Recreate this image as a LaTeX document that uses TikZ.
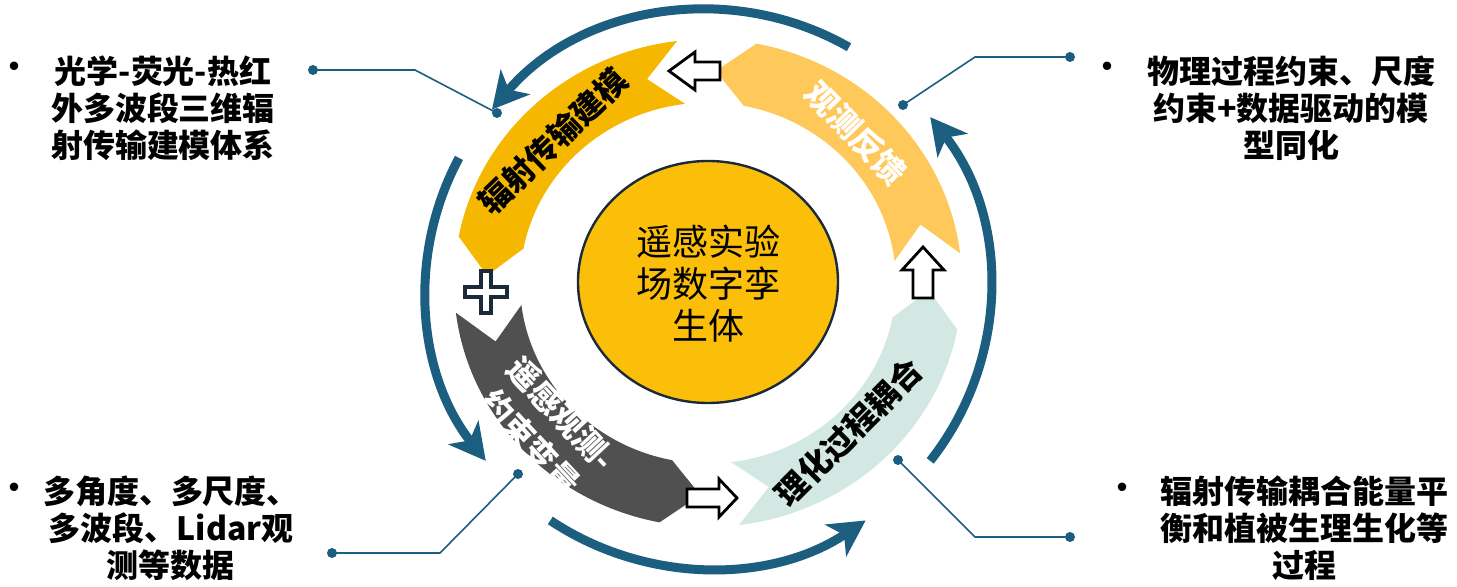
\documentclass[tikz,border=0pt]{standalone}
\usepackage{fontspec}
\setmainfont{Noto Sans CJK SC}
\usetikzlibrary{arrows.meta,shapes.geometric}
\definecolor{segY}{HTML}{F5B700}
\definecolor{segO}{HTML}{FFC85A}
\definecolor{segG}{HTML}{505050}
\definecolor{segT}{HTML}{D3E8E2}
\definecolor{cir}{HTML}{FBBF0A}
\definecolor{navy}{HTML}{1B5E80}
\definecolor{ink}{HTML}{1A2A3A}
\newcommand\ringseg[3]{%
  \fill[#3] (#1:254) arc[start angle=#1,end angle=#2,radius=254]
    -- ({#2+9}:221) -- (#2:188) arc[start angle=#2,end angle=#1,radius=188]
    -- ({#1+9}:221) -- cycle;}
\tikzset{
  bluearc/.style={navy,line width=4.5pt,-{Stealth[length=18pt,width=19pt,inset=5pt]}},
  hollow/.style={draw=black,fill=white,line width=1.4pt,line join=miter},
  callout/.style={navy,line width=0.8pt},
  dotm/.style={circle,fill=navy,inner sep=0pt,minimum size=5pt},
  side/.style={align=center,font=\fontsize{16pt}{18.5pt}\selectfont\bfseries},
  bul/.style={font=\fontsize{20pt}{22pt}\selectfont},
  arclab/.style={align=center,font=\fontsize{16pt}{21pt}\selectfont\bfseries}
}
\begin{document}
\begin{tikzpicture}[x=0.5pt,y=-0.5pt]
\useasboundingbox (0,0) rectangle (1457,587);
\begin{scope}[shift={(708,283)},x=0.5pt,y=0.48pt]
  \ringseg{97}{169}{segY}
  \ringseg{187}{259}{segG}
  \ringseg{277}{349}{segT}
  \ringseg{7}{79}{segO}
\end{scope}
\begin{scope}[shift={(708,289)},x=0.5pt,y=0.495pt]
  \draw[bluearc] (60:282) arc[start angle=60,end angle=140,radius=282];
  \draw[bluearc] (152:282) arc[start angle=152,end angle=218,radius=282];
  \draw[bluearc] (236:282) arc[start angle=236,end angle=304,radius=282];
  \draw[bluearc] (322:282) arc[start angle=322,end angle=398,radius=282];
\end{scope}
% centre
\node[ellipse,draw=ink,line width=1.2pt,fill=cir,minimum width=130pt,minimum height=121pt,inner sep=0pt] (core) at (708,282) {};
\node[align=center,font=\fontsize{18pt}{21pt}\selectfont] (coretxt) at (708,284) {遥感实验\\场数字孪\\生体};
% arc labels
\node[arclab,rotate=44] (l1) at (553,141) {辐射传输建模};
\node[arclab,rotate=-46,white] (l2) at (856,133) {观测反馈};
\node[arclab,rotate=-47,white] (l3) at (546,428) {遥感观测-\\约束变量};
\node[arclab,rotate=45] (l4) at (849,432) {理化过程耦合};
% hollow arrows
\draw[hollow] (669,71) -- (695,52) -- (695,62) -- (720,62) -- (720,80) -- (695,80) -- (695,90) -- cycle;
\draw[hollow] (923,247) -- (944,270) -- (933,270) -- (933,298) -- (913,298) -- (913,270) -- (902,270) -- cycle;
\draw[hollow] (737,498) -- (719,479) -- (719,489) -- (687,489) -- (687,507) -- (719,507) -- (719,517) -- cycle;
\draw[draw=ink,fill=white,line width=1.6pt] (481,271) -- (491,271) -- (491,287) -- (507,287) -- (507,297) -- (491,297) -- (491,313) -- (481,313) -- (481,297) -- (465,297) -- (465,287) -- (481,287) -- cycle;
% callouts
\node[dotm] (d1a) at (313,70) {}; \node[dotm] (d1b) at (497,113) {};
\coordinate (k1) at (415,70);
\draw[callout] (d1a.center) -- (k1) -- (d1b.center);
\node[dotm] (d2a) at (1070,57) {}; \node[dotm] (d2b) at (903,105) {};
\coordinate (k2) at (975,57);
\draw[callout] (d2a.center) -- (k2) -- (d2b.center);
\node[dotm] (d3a) at (332,553) {}; \node[dotm] (d3b) at (518,474) {};
\coordinate (k3) at (440,553);
\draw[callout] (d3a.center) -- (k3) -- (d3b.center);
\node[dotm] (d4a) at (1070,537) {}; \node[dotm] (d4b) at (898,460) {};
\coordinate (k4) at (975,537);
\draw[callout] (d4b.center) -- (k4) -- (d4a.center);
% side texts
\node[bul] (b1) at (15,72) {•};
\node[side] (t1) at (163,108) {光学-荧光-热红\\外多波段三维辐\\射传输建模体系};
\node[bul] (b2) at (1107,72) {•};
\node[side] (t2) at (1291,108) {物理过程约束、尺度\\约束+数据驱动的模\\型同化};
\node[bul] (b3) at (15,493) {•};
\node[side] (t3) at (171,528) {多角度、多尺度、\\多波段、Lidar观\\测等数据};
\node[bul] (b4) at (1122,493) {•};
\node[side] (t4) at (1304,528) {辐射传输耦合能量平\\衡和植被生理生化等\\过程};
\end{tikzpicture}
\end{document}
